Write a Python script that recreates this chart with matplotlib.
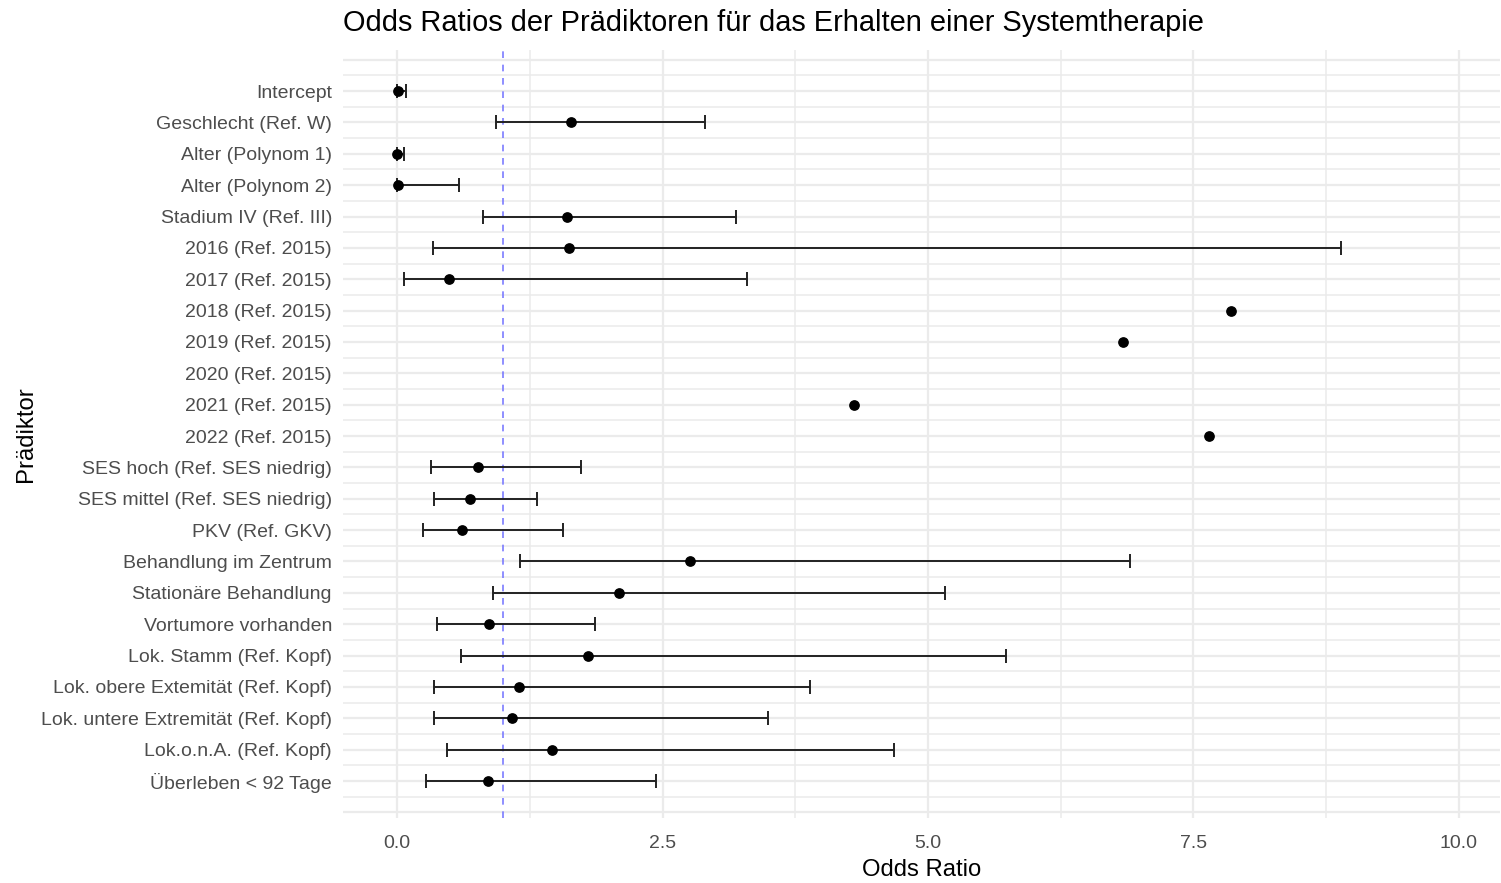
import numpy as np
import matplotlib
matplotlib.use('Agg')
import matplotlib.pyplot as plt

# Schriftart
plt.rcParams['font.family'] = ['Liberation Sans', 'DejaVu Sans']

# Daten
praediktoren = ['Intercept', 'Geschlecht (Ref. W)', 'Alter (Polynom 1)', 'Alter (Polynom 2)',
                'Stadium IV (Ref. III)', '2016 (Ref. 2015)', '2017 (Ref. 2015)', '2018 (Ref. 2015)',
                '2019 (Ref. 2015)', '2020 (Ref. 2015)', '2021 (Ref. 2015)', '2022 (Ref. 2015)',
                'SES hoch (Ref. SES niedrig)', 'SES mittel (Ref. SES niedrig)', 'PKV (Ref. GKV)',
                'Behandlung im Zentrum', 'Stationäre Behandlung', 'Vortumore vorhanden',
                'Lok. Stamm (Ref. Kopf)', 'Lok. obere Extemität (Ref. Kopf)',
                'Lok. untere Extremität (Ref. Kopf)', 'Lok.o.n.A. (Ref. Kopf)', 'Überleben < 92 Tage']
odds_ratio = [0.005, 1.635, 0.003, 0.004, 1.60, 1.62, 0.49, 7.86, 6.84, np.nan, 4.30, 7.65,
              0.76, 0.69, 0.61, 2.76, 2.09, 0.87, 1.80, 1.145, 1.08, 1.46, 0.86]
ci_unten = [0.0, 0.93, 0.0, 0.0, 0.81, 0.34, 0.06, np.nan, np.nan, np.nan, np.nan, np.nan,
            0.32, 0.35, 0.24, 1.16, 0.90, 0.38, 0.60, 0.35, 0.35, 0.47, 0.27]
ci_oben = [0.08, 2.90, 0.06, 0.584, 3.19, 8.89, 3.30, np.nan, np.nan, np.nan, np.nan, np.nan,
           1.73, 1.32, 1.56, 6.90, 5.16, 1.86, 5.74, 3.89, 3.49, 4.68, 2.44]

odds_ratio = np.array(odds_ratio)
ci_unten = np.array(ci_unten)
ci_oben = np.array(ci_oben)
n = len(praediktoren)
y = np.arange(n)

fig = plt.figure(figsize=(15.01, 8.83), dpi=100)
ax = fig.add_axes([343/1501, 65/883, 1157/1501, 768/883])

# Gitterlinien (ggplot theme_minimal)
grid_col = '#EBEBEB'
for gx in [0, 2.5, 5, 7.5, 10]:
    ax.axvline(gx, color=grid_col, lw=1.6, zorder=0)
for gx in [1.25, 3.75, 6.25, 8.75]:
    ax.axvline(gx, color=grid_col, lw=1.1, zorder=0)
for gy in list(y) + [-1, n]:
    ax.axhline(gy, color=grid_col, lw=1.6, zorder=0)
for gy in np.arange(-0.5, n, 1.0):
    ax.axhline(gy, color=grid_col, lw=1.1, zorder=0)

# Referenzlinie bei OR = 1
ax.axvline(1, color='#7B7BFF', lw=1.2, linestyle=(0, (4, 4)), zorder=1)

# Konfidenzintervalle
ok = ~np.isnan(ci_unten)
ax.errorbar(odds_ratio[ok], y[ok],
            xerr=[odds_ratio[ok] - ci_unten[ok], ci_oben[ok] - odds_ratio[ok]],
            fmt='none', ecolor='#222222', elinewidth=1.4, capsize=5, capthick=1.4, zorder=2)
# Punkte
ax.scatter(odds_ratio, y, s=45, color='black', zorder=3)

ax.set_xlim(-0.51, 10.39)
ax.set_ylim(n - 1 + 1.18, -1.31)
ax.set_xticks([0, 2.5, 5, 7.5, 10])
ax.set_xticklabels(['0.0', '2.5', '5.0', '7.5', '10.0'])
ax.set_yticks(y)
ax.set_yticklabels(praediktoren)
ax.tick_params(axis='both', length=0, labelsize=14, labelcolor='#4D4D4D')
ax.tick_params(axis='y', pad=8)
ax.tick_params(axis='x', pad=12)
for s in ax.spines.values():
    s.set_visible(False)

ax.set_xlabel('Odds Ratio', fontsize=17.2, labelpad=5)
ax.set_ylabel('Prädiktor', fontsize=17.2, labelpad=3)
fig.text(343/1501, 1 - 23/883, 'Odds Ratios der Prädiktoren für das Erhalten einer Systemtherapie',
         fontsize=20.9, ha='left', va='center')

fig.savefig('out.png', dpi=100)
